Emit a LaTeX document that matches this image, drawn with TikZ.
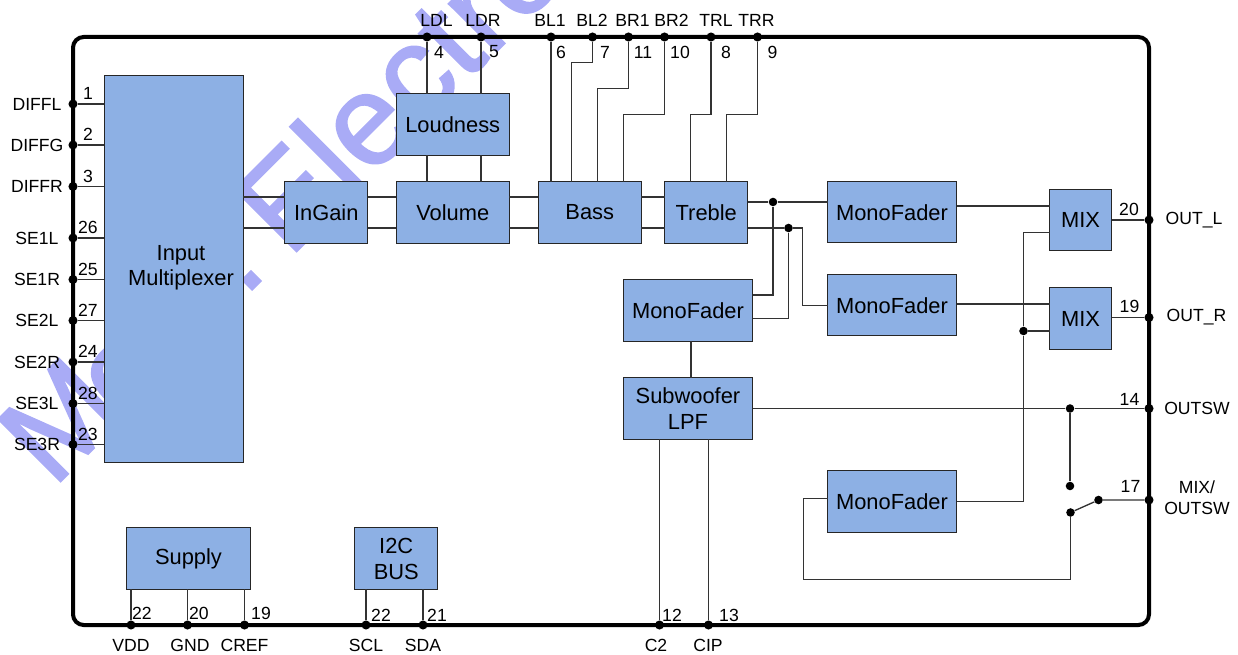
\documentclass[tikz,border=0pt]{standalone}
\usepackage{xcolor}
\usepackage{fontspec}
\setmainfont{Liberation Sans}
\newfontfamily\markfont[FakeBold=1.5]{Liberation Sans}
\usetikzlibrary{positioning, calc}
\definecolor{blockBlue}{HTML}{8DB0E4}
\definecolor{wireGray}{HTML}{333333}
\definecolor{markBlue}{HTML}{A9ABF6}
\begin{document}
\begin{tikzpicture}[
    x=0.75pt, y=-0.75pt,
    block/.style={
        draw=black!85, fill=blockBlue, line width=0.75pt, inner sep=0pt, outer sep=0pt,
        minimum height=46pt, align=center, font=\fontsize{16.4}{19.5}\selectfont
    },
    wire/.style={draw=wireGray, line width=1pt},
    pin/.style={circle, fill=black, inner sep=0pt, minimum size=6.8pt},
    dot/.style={circle, fill=black, inner sep=0pt, minimum size=6.4pt},
    txt/.style={inner sep=0pt, align=center, font=\fontsize{13.2}{15.7}\selectfont},
    watermark/.style={rotate=45, anchor=base west, inner sep=0pt, text=markBlue, font=\fontsize{96}{96}\markfont}
]
    \useasboundingbox (0,0) rectangle (1238,655);

    \node[watermark] (markM) at (53,489) {M};
    \node[watermark] (markO) at (125,426) {o};
    \node[watermark] (markDot) at (243.7,298) {.};
    \node[watermark] (markWord) at (289,259) {Electronics};

    \node[draw=black, line width=3pt, rounded corners=8pt, inner sep=0pt, minimum width=807pt, minimum height=441pt] (chip) at (611,331) {};

    \node[block, minimum width=104.6pt, minimum height=289.9pt] (mux) at (173.75,269.25) {};
    \node[inner sep=0pt, align=center, font=\fontsize{16.4}{19}\selectfont] (muxText) at (181,267.5) {Input\\Multiplexer};
    \node[block, minimum width=61.9pt] (ingain) at (326.25,212.5) {InGain};
    \node[block, minimum width=85.1pt] (volume) at (452.75,212.5) {Volume};
    \node[block, minimum width=85.1pt] (loudness) at (452.75,124.5) {Loudness};
    \node[block, minimum width=77.6pt] (bass) at (589.75,212.5) {Bass};
    \node[block, minimum width=61.9pt] (treble) at (706.25,212.5) {Treble};
    \node[block, minimum width=96.75pt] (faderSub) at (688,310.5) {MonoFader};
    \node[block, minimum width=96.75pt] (lpf) at (688,408.5) {Subwoofer\\LPF};
    \node[block, minimum width=96.75pt] (faderL) at (892,212.25) {MonoFader};
    \node[block, minimum width=96.75pt] (faderR) at (892,305.25) {MonoFader};
    \node[block, minimum width=96.75pt] (faderMix) at (892,501.5) {MonoFader};
    \node[block, minimum width=46.5pt] (mixL) at (1080.5,220.25) {MIX};
    \node[block, minimum width=46.5pt] (mixR) at (1080.5,318.5) {MIX};
    \node[block, minimum width=93pt] (supply) at (188.5,558.5) {Supply};
    \node[block, minimum width=62pt] (bus) at (396.25,558.5) {I2C\\BUS};

    \node[pin] (pDiffl) at (73,104) {};
    \node[pin] (pDiffg) at (73,145) {};
    \node[pin] (pDiffr) at (73,186.5) {};
    \node[pin] (pSeOneL) at (73,238) {};
    \node[pin] (pSeOneR) at (73,279.5) {};
    \node[pin] (pSeTwoL) at (73,320.5) {};
    \node[pin] (pSeTwoR) at (73,362) {};
    \node[pin] (pSeThreeL) at (73,403.5) {};
    \node[pin] (pSeThreeR) at (73,444.5) {};
    \node[pin] (pLdl) at (427,37) {};
    \node[pin] (pLdr) at (481,37) {};
    \node[pin] (pBlOne) at (551,37) {};
    \node[pin] (pBlTwo) at (592.5,37) {};
    \node[pin] (pBrOne) at (628.5,37) {};
    \node[pin] (pBrTwo) at (664.5,37) {};
    \node[pin] (pTrl) at (711,37) {};
    \node[pin] (pTrr) at (757.5,37) {};
    \node[pin] (pOutL) at (1149,220) {};
    \node[pin] (pOutR) at (1149,317.5) {};
    \node[pin] (pOutsw) at (1149,408.5) {};
    \node[pin] (pMix) at (1149,500) {};
    \node[pin] (pVdd) at (131,625) {};
    \node[pin] (pGnd) at (187.5,625) {};
    \node[pin] (pCref) at (244.5,625) {};
    \node[pin] (pScl) at (366,625) {};
    \node[pin] (pSda) at (423,625) {};
    \node[pin] (pCtwo) at (659.5,625) {};
    \node[pin] (pCip) at (708.5,625) {};

    \node[dot] (jTopL) at (773,202) {};
    \node[dot] (jTopR) at (788.5,228) {};
    \node[dot] (jMix) at (1023.5,331) {};
    \node[dot] (jSw) at (1070,408.5) {};
    \node[dot] (swA) at (1070,486) {};
    \node[dot] (swB) at (1070.5,512.5) {};
    \node[dot] (swC) at (1098.5,500) {};

    \draw[wire] (pDiffl) -- (pDiffl -| mux.west);
    \draw[wire] (pDiffg) -- (pDiffg -| mux.west);
    \draw[wire] (pDiffr) -- (pDiffr -| mux.west);
    \draw[wire] (pSeOneL) -- (pSeOneL -| mux.west);
    \draw[wire] (pSeOneR) -- (pSeOneR -| mux.west);
    \draw[wire] (pSeTwoL) -- (pSeTwoL -| mux.west);
    \draw[wire] (pSeTwoR) -- (pSeTwoR -| mux.west);
    \draw[wire] (pSeThreeL) -- (pSeThreeL -| mux.west);
    \draw[wire] (pSeThreeR) -- (pSeThreeR -| mux.west);

    \draw[wire] (mux.east |- 0,197) -- (ingain.west |- 0,197);
    \draw[wire] (mux.east |- 0,228) -- (ingain.west |- 0,228);
    \draw[wire] (ingain.east |- 0,197) -- (volume.west |- 0,197);
    \draw[wire] (ingain.east |- 0,228) -- (volume.west |- 0,228);
    \draw[wire] (volume.east |- 0,197) -- (bass.west |- 0,197);
    \draw[wire] (volume.east |- 0,228) -- (bass.west |- 0,228);
    \draw[wire] (bass.east |- 0,197) -- (treble.west |- 0,197);
    \draw[wire] (bass.east |- 0,228) -- (treble.west |- 0,228);

    \draw[wire] (pLdl) -- (pLdl |- loudness.north);
    \draw[wire] (pLdr) -- (pLdr |- loudness.north);
    \draw[wire] (pLdl |- loudness.south) -- (pLdl |- volume.north);
    \draw[wire] (pLdr |- loudness.south) -- (pLdr |- volume.north);
    \draw[wire] (pBlOne) -- (pBlOne |- bass.north);
    \draw[wire] (pBlTwo) |- (571.5,62.5) -- (571.5,182);
    \draw[wire] (pBrOne) |- (597.5,88.5) -- (597.5,182);
    \draw[wire] (pBrTwo) |- (623.5,114.5) -- (623.5,182);
    \draw[wire] (pTrl) |- (690.5,114.5) -- (690.5,182);
    \draw[wire] (pTrr) |- (726.5,114.5) -- (726.5,182);

    \draw[wire] (treble.east |- jTopL) -- (jTopL) -- (faderL.west |- jTopL);
    \draw[wire] (treble.east |- jTopR) -- (jTopR) -| (802.5,305.5) -- (faderR.west |- 0,305.5);
    \draw[wire] (faderSub.east |- 0,295) -| (jTopL);
    \draw[wire] (faderSub.east |- 0,318.5) -| (jTopR);
    \draw[wire] ($(faderSub.south)+(3,0)$) -- ($(lpf.north)+(3,0)$);

    \draw[wire] (faderL.east |- 0,206) -- (mixL.west |- 0,206);
    \draw[wire] (faderR.east |- 0,304) -- (mixR.west |- 0,304);
    \draw[wire] (faderMix.east |- 0,501.5) -| (jMix) |- (mixL.west |- 0,232.5);
    \draw[wire] (jMix) -- (mixR.west |- jMix);
    \draw[wire] (mixL.east |- pOutL) -- (pOutL);
    \draw[wire] (mixR.east |- pOutR) -- (pOutR);

    \draw[wire] (lpf.east |- pOutsw) -- (jSw) -- (pOutsw);
    \draw[wire] (jSw) -- (swA);
    \draw[wire] (swB) -- (swC) -- (pMix);
    \draw[wire] (swB) |- (803.5,579.5) |- (faderMix.west |- 0,498.5);
    \draw[wire] (lpf.south -| pCtwo) -- (pCtwo);
    \draw[wire] (lpf.south -| pCip) -- (pCip);

    \draw[wire] (supply.south -| pVdd) -- (pVdd);
    \draw[wire] (supply.south -| pGnd) -- (pGnd);
    \draw[wire] (supply.south -| pCref) -- (pCref);
    \draw[wire] (bus.south -| pScl) -- (pScl);
    \draw[wire] (bus.south -| pSda) -- (pSda);

    \node[txt] (lDiffl) at (37,104) {DIFFL};
    \node[txt] (lDiffg) at (37,145) {DIFFG};
    \node[txt] (lDiffr) at (37,186.5) {DIFFR};
    \node[txt] (lSeOneL) at (37,238) {SE1L};
    \node[txt] (lSeOneR) at (37,279.5) {SE1R};
    \node[txt] (lSeTwoL) at (37,320.5) {SE2L};
    \node[txt] (lSeTwoR) at (37,362) {SE2R};
    \node[txt] (lSeThreeL) at (37,403) {SE3L};
    \node[txt] (lSeThreeR) at (37,444) {SE3R};
    \node[txt] (nDiffl) at (88,93) {1};
    \node[txt] (nDiffg) at (88,134.5) {2};
    \node[txt] (nDiffr) at (88,176) {3};
    \node[txt] (nSeOneL) at (88,227.5) {26};
    \node[txt] (nSeOneR) at (88,269) {25};
    \node[txt] (nSeTwoL) at (88,310) {27};
    \node[txt] (nSeTwoR) at (88,351.5) {24};
    \node[txt] (nSeThreeL) at (88,393) {28};
    \node[txt] (nSeThreeR) at (88,434) {23};

    \node[txt] (lLdl) at (436.5,20.5) {LDL};
    \node[txt] (lLdr) at (483,20.5) {LDR};
    \node[txt] (lBlOne) at (550,20.5) {BL1};
    \node[txt] (lBlTwo) at (592,20.5) {BL2};
    \node[txt] (lBrOne) at (632.5,20.5) {BR1};
    \node[txt] (lBrTwo) at (671.5,20.5) {BR2};
    \node[txt] (lTrl) at (716,20.5) {TRL};
    \node[txt] (lTrr) at (756.5,20.5) {TRR};
    \node[txt] (nLdl) at (439,52) {4};
    \node[txt] (nLdr) at (494,52) {5};
    \node[txt] (nBlOne) at (561,52) {6};
    \node[txt] (nBlTwo) at (605,52) {7};
    \node[txt] (nBrOne) at (643,52) {11};
    \node[txt] (nBrTwo) at (680,52) {10};
    \node[txt] (nTrl) at (726,52) {8};
    \node[txt] (nTrr) at (772.5,52) {9};

    \node[txt] (lOutL) at (1194,220) {OUT\_L};
    \node[txt] (lOutR) at (1196.5,317.5) {OUT\_R};
    \node[txt] (lOutsw) at (1197,408) {OUTSW};
    \node[txt] (lMix) at (1197,498) {MIX/\\OUTSW};
    \node[txt] (nOutL) at (1129,209) {20};
    \node[txt] (nOutR) at (1129.5,306.5) {19};
    \node[txt] (nOutsw) at (1129.5,399) {14};
    \node[txt] (nMix) at (1130.5,486.5) {17};

    \node[txt] (lVdd) at (131,645.5) {VDD};
    \node[txt] (lGnd) at (190,645.5) {GND};
    \node[txt] (lCref) at (244.5,645.5) {CREF};
    \node[txt] (lScl) at (366,645.5) {SCL};
    \node[txt] (lSda) at (423,645.5) {SDA};
    \node[txt] (lCtwo) at (656,645.5) {C2};
    \node[txt] (lCip) at (708,645.5) {CIP};
    \node[txt] (nVdd) at (142,613) {22};
    \node[txt] (nGnd) at (199,613) {20};
    \node[txt] (nCref) at (261,613) {19};
    \node[txt] (nScl) at (381,615) {22};
    \node[txt] (nSda) at (437,615) {21};
    \node[txt] (nCtwo) at (672,615) {12};
    \node[txt] (nCip) at (729,615) {13};
\end{tikzpicture}
\end{document}
